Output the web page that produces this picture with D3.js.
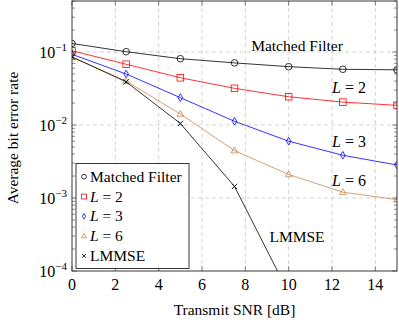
<!DOCTYPE html>
<html>
<head>
<meta charset="utf-8">
<script src="https://cdn.jsdelivr.net/npm/d3@7"></script>
<style>
body { margin: 0; background: #fff; }
text { font-family: "Liberation Serif", "DejaVu Serif", serif; }
</style>
</head>
<body>
<svg width="399" height="326"></svg>
<script>
// values
var snr = [0, 2.5, 5, 7.5, 10, 12.5, 15]
var matched = [0.131, 0.101, 0.081, 0.071, 0.063, 0.058, 0.057]
var l2 = [0.104, 0.068, 0.0444, 0.0318, 0.0244, 0.0206, 0.0186]
var l3 = [0.093, 0.050, 0.0237, 0.01125, 0.0060, 0.00385, 0.00283]
var l6 = [0.0846, 0.040, 0.01416, 0.00446, 0.0021, 0.0012, 0.00095]
var lmmse = [0.086, 0.039, 0.0105, 0.00144, 0.00005]
var xTicks = [0, 2, 4, 6, 8, 10, 12, 14]
var yTicks = [1e-4, 1e-3, 1e-2, 1e-1]
var seriesNames = ["Matched Filter", "L = 2", "L = 3", "L = 6", "LMMSE"]

var series = [
    { name: seriesNames[0], vals: matched, color: "#000000", mark: "circle" },
    { name: seriesNames[1], vals: l2, color: "#ff0000", mark: "square" },
    { name: seriesNames[2], vals: l3, color: "#0000ff", mark: "diamond" },
    { name: seriesNames[3], vals: l6, color: "#c8884a", mark: "triangle" },
    { name: seriesNames[4], vals: lmmse, color: "#000000", mark: "cross" }
]

var svg = d3.select("svg")
var pl = 72, pr = 397, pt = 1, pb = 271   // plot box

var x = d3.scaleLinear().domain([0, 15]).range([pl, pr])
var y = d3.scaleLog().domain([1e-4, 0.5]).range([pb, pt])

svg.append("clipPath").attr("id", "clip")
    .append("rect").attr("x", pl).attr("y", pt)
    .attr("width", pr - pl).attr("height", pb - pt)

// grid
var grid = svg.append("g")
grid.selectAll("line.gx").data(xTicks.slice(1)).enter().append("line")
    .attr("x1", d => x(d)).attr("x2", d => x(d))
    .attr("y1", pt).attr("y2", pb)
grid.selectAll("line.gy").data(yTicks.slice(1)).enter().append("line")
    .attr("x1", pl).attr("x2", pr)
    .attr("y1", d => y(d)).attr("y2", d => y(d))
grid.selectAll("line").attr("stroke", "#c8c8c8").attr("stroke-width", 0.8)
    .attr("stroke-dasharray", "4,3")

// minor ticks for log axis
var minors = []
for (var e = -4; e < 0; e++) {
    for (var k = 2; k <= 9; k++) {
        var v = k * Math.pow(10, e)
        if (v <= 0.5) minors.push(v)
    }
}
var ticks = svg.append("g").attr("stroke", "#444").attr("stroke-width", 0.6)
ticks.selectAll("line.mn").data(minors).enter().append("line")
    .attr("x1", pl).attr("x2", pl + 3)
    .attr("y1", d => y(d)).attr("y2", d => y(d))
ticks.selectAll("line.mn2").data(minors).enter().append("line")
    .attr("x1", pr).attr("x2", pr - 3)
    .attr("y1", d => y(d)).attr("y2", d => y(d))
ticks.selectAll("line.mj").data(yTicks).enter().append("line")
    .attr("x1", pl).attr("x2", pl + 5)
    .attr("y1", d => y(d)).attr("y2", d => y(d))
ticks.selectAll("line.mj2").data(yTicks).enter().append("line")
    .attr("x1", pr).attr("x2", pr - 5)
    .attr("y1", d => y(d)).attr("y2", d => y(d))
ticks.selectAll("line.xt").data(xTicks).enter().append("line")
    .attr("x1", d => x(d)).attr("x2", d => x(d))
    .attr("y1", pb).attr("y2", pb - 5)
ticks.selectAll("line.xt2").data(xTicks).enter().append("line")
    .attr("x1", d => x(d)).attr("x2", d => x(d))
    .attr("y1", pt).attr("y2", pt + 5)

// tick labels
svg.selectAll("text.xl").data(xTicks).enter().append("text")
    .attr("x", d => x(d)).attr("y", 290)
    .attr("text-anchor", "middle").attr("font-size", 16)
    .text(d => d)
var yl = svg.selectAll("text.yl").data(yTicks).enter().append("text")
    .attr("x", 67).attr("y", d => y(d) + 5.5)
    .attr("text-anchor", "end").attr("font-size", 16)
yl.append("tspan").text("10")
yl.append("tspan").attr("dy", -6.5).attr("font-size", 11)
    .text(d => "\u2212" + Math.round(-Math.log10(d)))

// lines and markers
var line = d3.line().x((d, i) => x(snr[i])).y(d => y(d))
var plot = svg.append("g").attr("clip-path", "url(#clip)")

function drawMark(g, mark, color, px, py, s) {
    if (mark == "circle") {
        g.append("circle").attr("cx", px).attr("cy", py).attr("r", s)
            .attr("fill", "none").attr("stroke", color).attr("stroke-width", 0.8)
    } else if (mark == "square") {
        g.append("rect").attr("x", px - s).attr("y", py - s)
            .attr("width", 2 * s).attr("height", 2 * s)
            .attr("fill", "none").attr("stroke", color).attr("stroke-width", 0.8)
    } else if (mark == "diamond") {
        var w = s * 0.7, h = s * 1.15
        g.append("polygon")
            .attr("points", [[px, py - h], [px + w, py], [px, py + h], [px - w, py]].join(" "))
            .attr("fill", "none").attr("stroke", color).attr("stroke-width", 0.8)
    } else if (mark == "triangle") {
        g.append("polygon")
            .attr("points", [[px, py - s * 1.1], [px + s, py + s * 0.7], [px - s, py + s * 0.7]].join(" "))
            .attr("fill", "none").attr("stroke", color).attr("stroke-width", 0.8)
    } else {
        var c = s * 0.8
        g.append("path")
            .attr("d", "M" + (px - c) + "," + (py - c) + "L" + (px + c) + "," + (py + c) +
                "M" + (px - c) + "," + (py + c) + "L" + (px + c) + "," + (py - c))
            .attr("stroke", color).attr("stroke-width", 0.9)
    }
}

series.forEach(function(s) {
    plot.append("path").datum(s.vals).attr("d", line)
        .attr("fill", "none").attr("stroke", s.color).attr("stroke-width", 0.8)
})
series.forEach(function(s) {
    s.vals.forEach(function(v, i) {
        drawMark(plot, s.mark, s.color, x(snr[i]), y(v), 3.3)
    })
})

// frame
svg.append("rect").attr("x", pl).attr("y", pt)
    .attr("width", pr - pl).attr("height", pb - pt)
    .attr("fill", "none").attr("stroke", "#222").attr("stroke-width", 0.9)

// in-plot labels
function mathLabel(px, py, num) {
    var t = svg.append("text").attr("x", px).attr("y", py).attr("font-size", 16)
    t.append("tspan").attr("font-style", "italic").text("L")
    t.append("tspan").text(" = " + num)
}
svg.append("text").attr("x", 297).attr("y", 51).attr("text-anchor", "middle")
    .attr("font-size", 15.5).text(seriesNames[0])
mathLabel(332, 93, 2)
mathLabel(332, 147, 3)
mathLabel(332, 186, 6)
svg.append("text").attr("x", 297).attr("y", 242).attr("text-anchor", "middle")
    .attr("font-size", 15.5).text(seriesNames[4])

// legend
var lg = svg.append("g")
lg.append("rect").attr("x", 76).attr("y", 163.5).attr("width", 113).attr("height", 105)
    .attr("fill", "#fff").attr("stroke", "#222").attr("stroke-width", 0.9)
series.forEach(function(s, i) {
    var ly = 176.7 + i * 19.8
    drawMark(lg, s.mark, s.color, 84, ly, 2.4)
    var t = lg.append("text").attr("x", 90).attr("y", ly + 5).attr("font-size", 15.5)
    if (i >= 1 && i <= 3) {
        t.append("tspan").attr("font-style", "italic").text("L")
        t.append("tspan").text(" = " + s.name.split("= ")[1])
    } else {
        t.text(s.name)
    }
})

// axis titles
svg.append("text").attr("x", (pl + pr) / 2).attr("y", 315)
    .attr("text-anchor", "middle").attr("font-size", 15.5).text("Transmit SNR [dB]")
svg.append("text").attr("transform", "translate(18,138) rotate(-90)")
    .attr("text-anchor", "middle").attr("font-size", 15.5).text("Average bit error rate")
</script>
</body>
</html>
